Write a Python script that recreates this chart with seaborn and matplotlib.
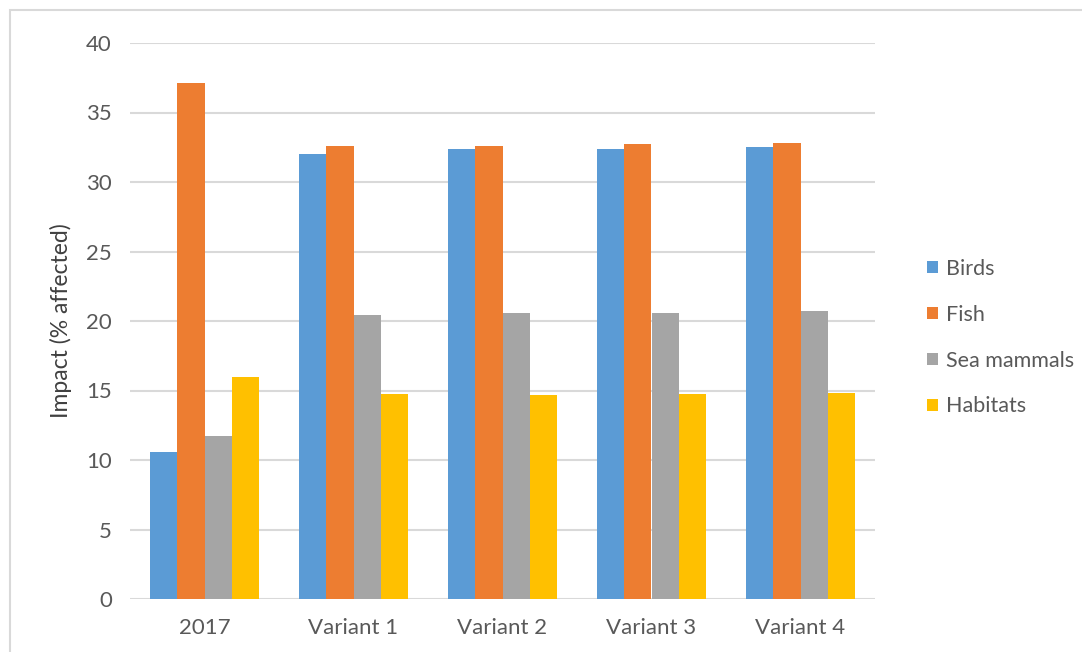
import pandas as pd
import matplotlib.pyplot as plt
import matplotlib.patches as mpatches
import seaborn as sns

categories = ["2017", "Variant 1", "Variant 2", "Variant 3", "Variant 4"]
birds = [10.6, 32.0, 32.4, 32.4, 32.5]
fish = [37.1, 32.6, 32.6, 32.7, 32.8]
sea_mammals = [11.7, 20.4, 20.55, 20.55, 20.7]
habitats = [15.95, 14.75, 14.7, 14.75, 14.85]

groups = ["Birds", "Fish", "Sea mammals", "Habitats"]
colors = ["#5B9BD5", "#ED7D31", "#A5A5A5", "#FFC000"]

df = pd.DataFrame({
    "Scenario": categories * 4,
    "Group": [g for g in groups for _ in categories],
    "Impact": birds + fish + sea_mammals + habitats,
})

sns.set_style("white")
plt.rcParams["font.family"] = ["Lato", "DejaVu Sans"]

fig = plt.figure(figsize=(10.82, 6.52), dpi=100)
ax = fig.add_axes([130 / 1082, 1 - 599 / 652, 745 / 1082, 556 / 652])

# light border around the chart area
fig.patches.append(mpatches.Rectangle((10 / 1082, -0.05), 1.1, 1 - 10 / 652 + 0.05,
                                      transform=fig.transFigure, fill=False,
                                      edgecolor="#D9D9D9", linewidth=1.5))

sns.barplot(data=df, x="Scenario", y="Impact", hue="Group", palette=colors,
            width=0.725, gap=0, saturation=1, linewidth=0, ax=ax, legend=True)

ax.set_ylim(0, 40)
ax.set_yticks(range(0, 41, 5))
ax.set_xlim(-0.5, 4.5)
ax.yaxis.grid(True, color="#D9D9D9", linewidth=1.5)
ax.set_axisbelow(True)
for s in ax.spines.values():
    s.set_visible(False)
ax.tick_params(axis="both", length=0, labelsize=16, labelcolor="#595959")
ax.tick_params(axis="y", pad=13)
ax.tick_params(axis="x", pad=14)
ax.set_xlabel("")
ax.set_ylabel("Impact (% affected)", fontsize=16.5, color="#404040", labelpad=10)

leg = ax.legend(loc="center left", bbox_to_anchor=(1.055, 0.47), frameon=False,
                fontsize=15.5, handlelength=0.5, handleheight=0.5, borderpad=0,
                handletextpad=0.4, labelspacing=1.2)
for t in leg.get_texts():
    t.set_color("#595959")

fig.savefig("out.png", dpi=100)
